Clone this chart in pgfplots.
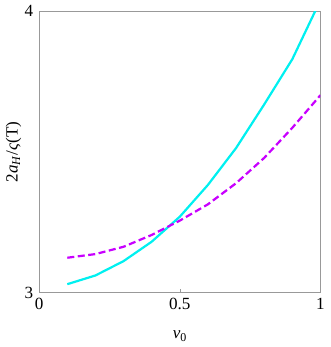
\documentclass[border=0pt]{standalone}
\usepackage{fontspec}
\setmainfont{Liberation Serif}
\usepackage{pgfplots}
\pgfplotsset{compat=1.18}
\definecolor{mycyan}{RGB}{0,240,240}
\definecolor{mymag}{RGB}{200,0,255}
\begin{document}
\fontsize{17}{20}\selectfont
\begin{tikzpicture}
\begin{axis}[
  width=280pt, height=280pt, scale only axis,
  xmin=0, xmax=1, ymin=3, ymax=4,
  xtick={0,0.5,1}, ytick={3,4},
  xticklabels={0,0.5,1}, yticklabels={3,4},
  tick align=inside, tick pos=left,
  major tick length=4pt,
  axis line style={gray!80},
  every tick/.style={gray!80},
  /pgf/number format/assume math mode=true,
  tick label style={font=\fontsize{17}{20}\selectfont},
  label style={font=\fontsize{17}{20}\selectfont},
  xlabel={\textit{v}\textsubscript{0}},
  ylabel={2\textit{a}\textsubscript{\textit{H}}/\textit{ς}(T)},
  xlabel style={yshift=-9pt},
  ylabel style={yshift=-8pt},
  clip=true,
]
\addplot[mycyan, line width=2.2pt] coordinates {
(0.1,3.030) (0.2,3.061) (0.3,3.112) (0.4,3.181) (0.5,3.270)
(0.6,3.383) (0.7,3.514) (0.8,3.669) (0.9,3.830) (1.0,4.040)};
\addplot[mymag, line width=2.2pt, dash pattern=on 7pt off 3.5pt] coordinates {
(0.1,3.124) (0.2,3.137) (0.3,3.163) (0.4,3.205) (0.5,3.256)
(0.6,3.314) (0.7,3.389) (0.8,3.479) (0.9,3.586) (1.0,3.702)};
\end{axis}
\end{tikzpicture}
\end{document}
